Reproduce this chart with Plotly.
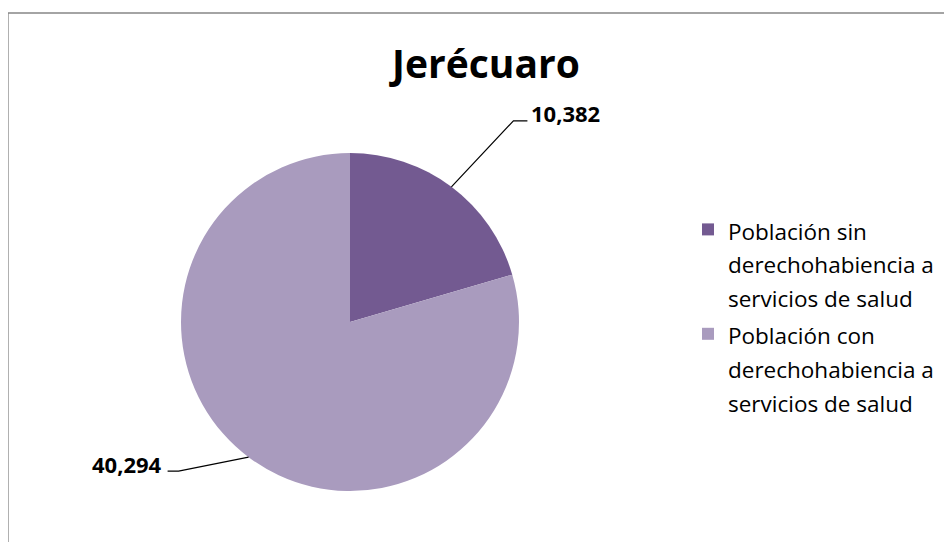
import math
import plotly.graph_objects as go

# ---- data ----
title_text = "Jerécuaro"
categories = ["Población sin", "Población con"]
category_tail = "derechohabiencia a<br>servicios de salud"
values = [10382, 40294]
label_texts = ["10,382", "40,294"]
colors = ["#735A91", "#A99BBE"]

W, H = 952, 542
OFF = 8  # default page body margin
FONT = "'Open Sans', sans-serif"

# pie geometry in reference pixels
cx, cy, r = 350, 322, 169


def px(x):
    return (x - OFF) / W


def py(y):
    return 1 - (y - OFF) / H


legend_labels = [
    f"<span style='font-size:22.5px'>{c}<br>{category_tail}</span>" for c in categories
]

fig = go.Figure(go.Pie(
    labels=legend_labels,
    values=values,
    sort=False,
    direction="clockwise",
    rotation=0,
    textinfo="none",
    hoverinfo="value",
    marker=dict(colors=colors, line=dict(width=0)),
    domain=dict(x=[px(cx - r), px(cx + r)], y=[py(cy + r), py(cy - r)]),
))

# leader lines + labels computed from slice mid angles
total = sum(values)
elbow_offsets = [(62, -66), (-70, 14)]
tail = [14, -11]
shapes = [dict(type="rect", xref="paper", yref="paper",
               x0=px(8), y0=-0.05, x1=1.05, y1=py(13),
               line=dict(color="#868686", width=1.3), fillcolor="rgba(0,0,0,0)")]
annotations = []
cum = 0
for i, v in enumerate(values):
    mid = (cum + v / 2) / total * 2 * math.pi
    cum += v
    ex = cx + r * math.sin(mid)
    ey = cy - r * math.cos(mid)
    bx = ex + elbow_offsets[i][0]
    by = ey + elbow_offsets[i][1]
    tx = bx + tail[i]
    path = f"M{px(ex)},{py(ey)} L{px(bx)},{py(by)} L{px(tx)},{py(by)}"
    shapes.append(dict(type="path", xref="paper", yref="paper", path=path,
                       line=dict(color="#000000", width=1.2)))
    if tail[i] > 0:
        annotations.append(dict(x=px(tx + 2), y=py(by - 8), xref="paper", yref="paper",
                                text=f"<b>{label_texts[i]}</b>", showarrow=False,
                                xanchor="left", yanchor="middle",
                                font=dict(family=FONT, size=22, color="#000000")))
    else:
        annotations.append(dict(x=px(tx - 4), y=py(by - 7), xref="paper", yref="paper",
                                text=f"<b>{label_texts[i]}</b>", showarrow=False,
                                xanchor="right", yanchor="middle",
                                font=dict(family=FONT, size=22, color="#000000")))

fig.update_layout(
    width=W, height=H,
    margin=dict(l=0, r=0, t=0, b=0),
    paper_bgcolor="#FFFFFF",
    plot_bgcolor="#FFFFFF",
    title=dict(text=f"<b>{title_text}</b>", x=px(486), y=py(64),
               xanchor="center", yanchor="middle",
               font=dict(family=FONT, size=39, color="#000000")),
    legend=dict(x=px(688), y=py(206), xanchor="left", yanchor="top",
                valign="top", tracegroupgap=0,
                font=dict(family=FONT, size=26, color="#000000"),
                bgcolor="rgba(0,0,0,0)"),
    shapes=shapes,
    annotations=annotations,
)

fig.write_html("out.html")
